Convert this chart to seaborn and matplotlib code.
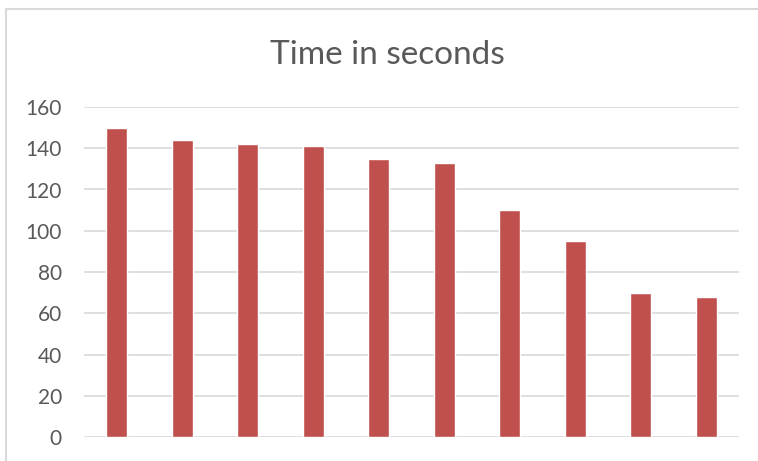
import matplotlib
matplotlib.use("Agg")
import matplotlib.pyplot as plt
from matplotlib.lines import Line2D
import seaborn as sns
import pandas as pd

# Series values (seconds) for each of the ten runs
runs = [1, 2, 3, 4, 5, 6, 7, 8, 9, 10]
seconds = [150, 144, 142, 141, 135, 133, 110, 95, 70, 68]
y_ticks = [0, 20, 40, 60, 80, 100, 120, 140, 160]
title = "Time in seconds"

df = pd.DataFrame({"run": runs, "seconds": seconds})

sns.set_theme(style="white")
plt.rcParams["font.family"] = ["Lato", "DejaVu Sans"]

W, H = 758, 461
fig = plt.figure(figsize=(W / 100, H / 100), dpi=100)
fig.patch.set_facecolor("white")

# Chart frame (top and left edges inside the canvas)
frame_kw = dict(transform=fig.transFigure, color="#d9d9d9", linewidth=1.5)
fig.lines.append(Line2D([5.5 / W, 1.0], [1 - 9.5 / H] * 2, **frame_kw))
fig.lines.append(Line2D([5.5 / W] * 2, [0.0, 1 - 9.5 / H], **frame_kw))

ax = fig.add_axes([84 / W, 1 - 437 / H, (739 - 84) / W, (437 - 107) / H])
sns.barplot(data=df, x="run", y="seconds", color="#c0504d", width=0.32,
            saturation=1, ax=ax, zorder=3)

ax.set_ylim(0, 160)
ax.set_yticks(y_ticks)
ax.set_yticklabels([str(t) for t in y_ticks])
ax.set_xticks([])
ax.set_xlabel("")
ax.set_ylabel("")
ax.grid(axis="y", color="#d9d9d9", linewidth=1.2, zorder=0)
ax.set_axisbelow(True)
for s in ax.spines.values():
    s.set_visible(False)
ax.tick_params(axis="y", length=0, pad=16, labelsize=15, labelcolor="#595959")

fig.text(387 / W, 1 - 64.5 / H, title, ha="center", va="baseline",
         fontsize=24, color="#595959")

fig.savefig("out.png", dpi=100, facecolor="white")
